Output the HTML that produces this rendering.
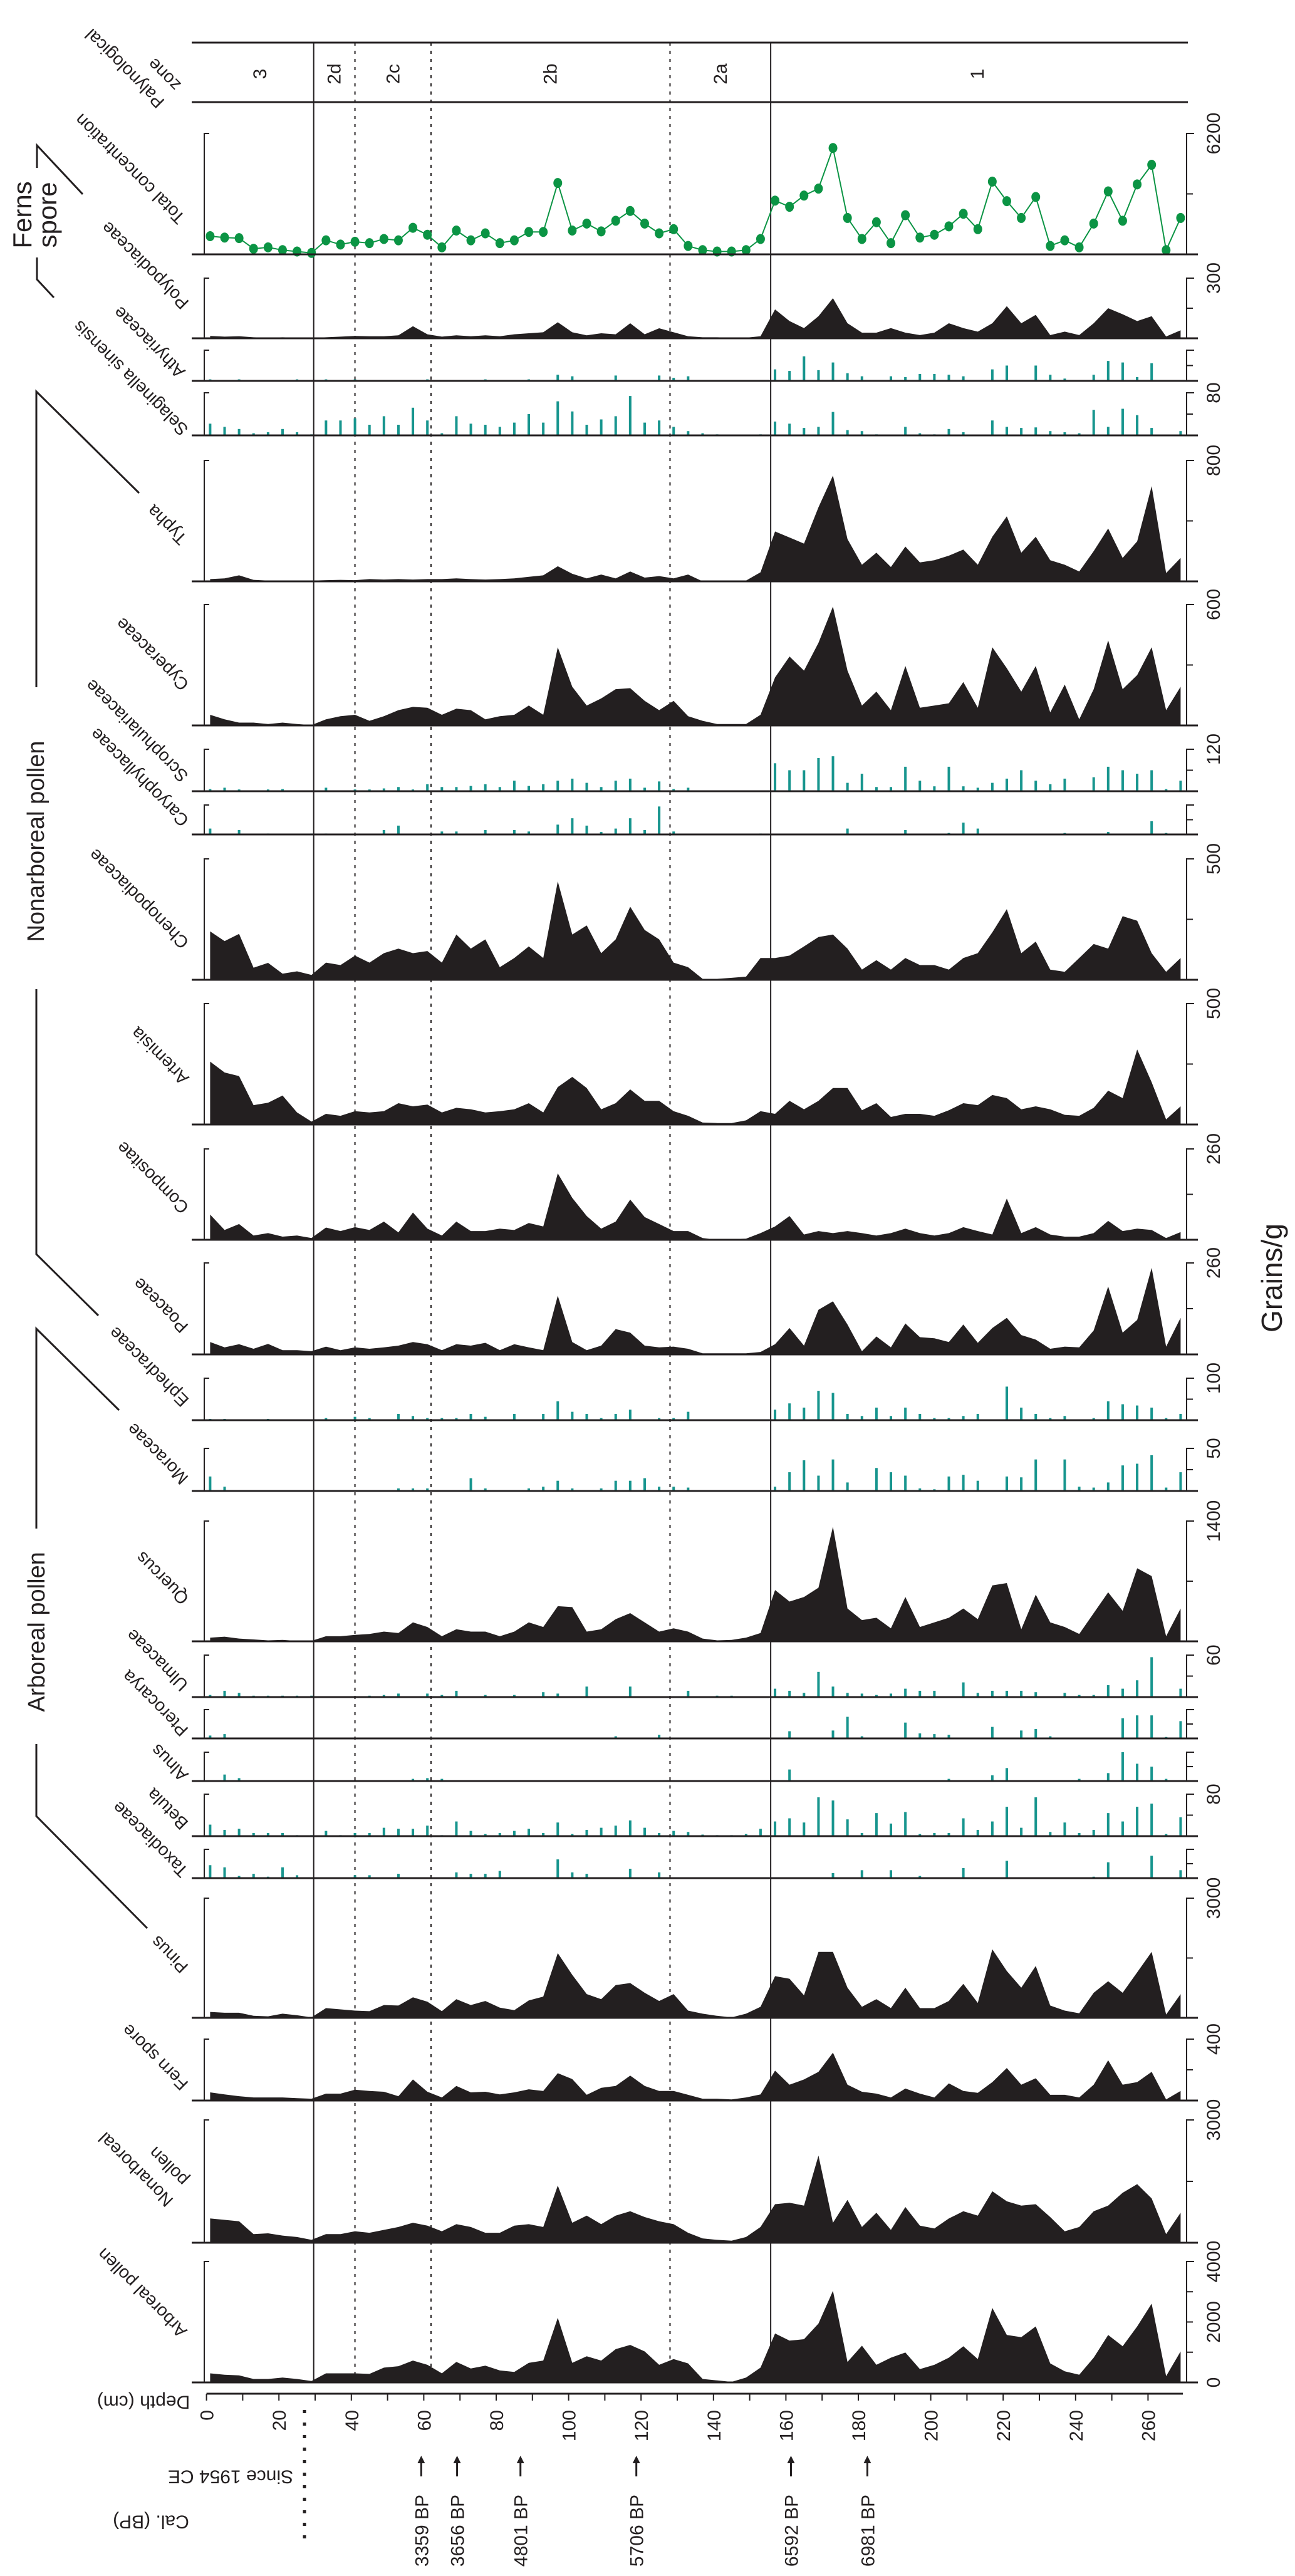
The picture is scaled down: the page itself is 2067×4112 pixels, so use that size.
<!DOCTYPE html>
<html>
<head>
<meta charset="utf-8">
<style>
html,body{margin:0;padding:0;background:#fff;}
svg{display:block;}
text{font-family:"Liberation Sans",Arial,sans-serif;fill:#231f20;}
</style>
</head>
<body>
<svg id="chart" xmlns="http://www.w3.org/2000/svg" width="2067" height="4112" viewBox="0 0 2067 4112"></svg>
<script>
const depths = [1,5,9,13,17,21,25,29,33,37,41,45,49,53,57,61,65,69,73,77,81,85,89,93,97,101,105,109,113,117,121,125,129,133,137,141,145,149,153,157,161,165,169,173,177,181,185,189,193,197,201,205,209,213,217,221,225,229,233,237,241,245,249,253,257,261,265,269];
const depthTicks = [0,20,40,60,80,100,120,140,160,180,200,220,240,260];
const zoneNames = ["3","2d","2c","2b","2a","1"];
const zoneBounds = [0,29.6,41,62,128,155.8,270];
const zoneSolid = [29.6,155.8];
const zoneDotted = [41,62,128];
const dateDepths = [59.3,69.2,86.7,118.7,161.4,182.5];
const dateLabels = ["3359 BP","3656 BP","4801 BP","5706 BP","6592 BP","6981 BP"];

const totalConc = [933,861,832,287,359,215,144,72,718,502,646,574,789,718,1363,1005,359,1220,718,1076,574,718,1148,1148,3659,1220,1578,1177,1722,2224,1578,1076,1291,431,215,144,144,215,789,2755,2440,3014,3372,5453,1866,789,1650,574,2009,861,1005,1435,2081,1291,3731,2727,1866,2942,431,718,359,1578,3229,1722,3587,4592,215,1866];
const polypod = [12,8,10,5,3,5,3,2,5,8,12,10,10,15,60,20,8,15,10,15,10,20,25,30,80,30,15,25,20,75,20,50,30,10,5,5,3,3,10,144,86,51,110,200,75,28,28,51,28,16,28,75,51,33,75,160,75,117,16,33,16,75,150,120,86,110,9,40];
const athyr = [2,0,2,0,0,0,2,0,2,0,2,0,0,0,0,2,0,0,0,2,0,0,2,0,8,6,0,0,7,0,0,7,4,6,0,0,0,0,0,15,13,32,14,24,10,6,0,6,5,9,9,8,6,0,15,20,0,20,8,3,0,8,26,24,5,23,0,0];
const selag = [22,16,12,4,6,12,6,2,28,28,32,20,36,20,52,28,4,36,22,20,16,24,40,24,64,45,20,30,36,74,24,28,16,8,4,2,0,0,2,26,22,14,16,44,10,8,2,0,16,4,2,12,6,0,28,16,14,15,8,6,4,48,16,50,38,14,0,8];
const typha = [15,20,40,10,5,5,5,5,8,10,8,15,12,15,12,15,15,20,15,12,15,20,30,40,100,50,20,45,20,65,25,35,20,45,0,0,0,5,60,330,290,250,490,700,280,110,190,95,230,125,140,170,210,110,295,430,190,295,140,110,65,200,350,155,265,630,55,155];
const cyper = [53,30,14,14,7,14,7,2,30,46,53,23,46,76,92,88,53,83,76,30,46,53,99,53,388,192,99,134,180,185,122,76,122,46,23,7,7,7,53,238,342,272,410,590,272,99,168,76,295,88,99,110,215,88,388,284,168,295,65,203,30,180,422,180,250,388,76,192];
const scroph = [6,10,5,2,5,6,2,0,10,2,5,5,8,12,5,20,12,12,15,20,12,30,15,20,30,36,24,12,30,36,10,28,6,10,2,2,2,2,2,80,60,60,95,100,24,50,12,12,70,30,14,70,14,10,24,36,60,30,20,36,2,40,70,60,50,60,6,30];
const caryo = [12,0,9,0,2,0,0,2,2,0,0,0,9,18,0,0,6,6,0,9,0,9,6,0,20,33,18,5,12,33,9,57,6,0,0,0,0,0,2,0,0,0,0,0,12,0,0,0,9,0,0,3,24,12,0,0,0,0,0,3,0,0,5,0,0,27,3,0];
const cheno = [200,160,190,50,70,25,35,20,71,61,100,71,110,129,110,119,71,187,129,167,52,90,138,90,407,187,225,110,167,302,206,167,71,52,4,4,8,13,90,90,100,138,177,187,129,42,81,42,90,61,61,42,90,110,196,292,110,158,42,33,90,148,129,263,244,110,33,90];
const artem = [260,215,200,80,90,120,50,12,44,36,55,50,55,88,75,82,50,69,63,50,55,63,88,50,155,197,151,63,88,145,98,98,55,36,8,6,6,17,55,44,98,63,98,151,151,59,88,31,44,44,36,59,88,80,122,109,63,75,63,40,36,69,140,109,310,175,21,75];
const compos = [72,28,45,12,19,9,12,5,35,25,36,28,52,21,78,32,12,52,25,25,32,28,48,38,190,120,68,32,52,115,65,45,25,25,5,0,2,3,19,38,68,15,25,19,25,19,12,19,32,19,12,19,36,25,15,118,19,36,15,9,9,19,54,25,32,28,5,22];
const poac = [35,20,29,16,30,12,12,9,22,12,20,16,20,25,35,29,12,29,25,33,12,29,20,12,167,35,12,25,72,62,25,20,22,16,3,3,3,3,7,29,75,25,127,151,85,9,51,20,88,49,46,35,85,33,75,104,55,42,16,22,20,68,193,62,98,246,22,104];
const ephed = [3,3,0,0,3,0,0,0,5,0,8,5,0,15,10,5,5,5,15,8,0,15,0,15,45,20,15,5,15,25,0,5,5,20,0,0,0,0,0,25,40,30,70,65,15,10,30,10,30,15,5,5,10,15,0,80,30,15,5,10,0,5,45,38,35,30,5,15];
const morac = [17,5,1,0,1,0,0,0,0,0,0,0,0,3,3,3,0,0,15,3,0,1,3,5,12,3,0,3,12,12,15,5,5,4,0,0,0,0,0,5,22,36,18,37,10,0,27,22,18,3,2,17,19,12,0,17,16,37,0,37,5,4,10,30,32,42,4,22];
const querc = [43,54,32,22,11,16,5,5,59,59,75,86,113,97,220,167,59,140,113,113,59,113,220,167,409,398,113,140,258,328,220,113,151,113,32,11,16,43,97,597,463,516,624,1334,382,247,274,151,516,167,220,274,382,258,651,678,140,543,220,167,86,328,570,355,850,759,59,382];
const ulmac = [3,9,6,2,2,2,2,2,1,1,0,2,3,5,0,5,3,9,0,3,0,3,0,7,5,0,15,0,0,15,0,0,0,9,0,2,2,1,0,12,9,6,36,15,6,5,3,5,12,9,9,0,21,6,9,9,9,7,0,6,3,3,17,12,24,57,0,12];
const ptero = [4,6,0,0,0,0,0,0,1,0,0,1,0,0,0,0,1,0,0,0,0,1,0,0,0,0,0,0,3,0,0,5,0,0,0,0,0,0,0,0,10,0,0,11,30,3,0,1,22,7,6,5,0,0,16,0,11,13,3,0,1,0,0,28,32,32,2,24];
const alnus = [0,9,4,0,1,0,0,0,0,0,0,0,0,0,3,4,3,0,0,0,0,0,0,0,0,0,0,0,0,0,0,0,0,0,0,0,0,0,0,0,16,0,0,0,0,0,0,0,0,0,0,3,0,0,8,18,0,0,1,0,3,0,11,40,24,20,3,0];
const betula = [22,12,14,6,6,6,2,2,10,2,6,6,16,14,14,20,2,28,10,4,6,10,14,6,26,4,12,16,20,30,16,6,10,8,3,2,2,4,14,28,34,26,74,68,32,6,44,24,46,4,6,6,34,12,28,56,16,74,8,26,6,12,44,28,56,62,4,36];
const taxod = [18,15,3,6,2,15,4,0,0,0,4,4,0,6,0,0,0,8,6,6,10,0,0,0,26,8,6,0,0,13,0,8,0,0,0,0,0,0,0,0,0,0,0,7,0,11,0,11,0,3,0,0,14,0,0,24,0,0,0,0,0,2,22,0,0,31,0,11];
const pinus = [147,128,128,51,38,103,64,13,244,212,180,167,320,308,513,404,167,468,320,423,256,192,436,532,1622,1077,596,468,820,872,628,423,596,180,103,51,13,103,276,1045,980,564,1654,1654,756,276,468,244,756,244,244,423,853,372,1718,1173,756,1301,308,180,115,628,917,628,1141,1654,83,596];
const fern = [53,40,28,20,20,20,15,12,45,45,70,62,57,28,137,57,20,95,53,57,40,53,73,62,178,140,37,83,95,162,95,62,62,37,12,12,7,20,40,195,103,137,187,312,103,57,45,20,78,45,20,112,62,50,120,212,103,145,37,37,20,103,262,103,120,187,7,62];
const nonarb = [593,558,523,209,230,174,140,70,209,209,279,244,314,384,488,418,279,453,384,244,244,418,453,384,1396,488,663,453,663,768,628,523,453,244,105,70,49,140,384,942,977,907,2129,488,1047,384,733,314,872,418,349,593,768,663,1256,1012,907,942,628,279,384,768,907,1221,1431,1082,209,733];
const arbor = [301,254,235,113,113,160,113,47,301,301,301,282,489,536,724,583,301,677,461,555,395,348,649,724,2136,649,866,724,1101,1242,1026,583,771,630,113,66,19,160,489,1618,1383,1430,1948,3030,677,1214,583,818,988,442,583,818,1195,771,2465,1571,1496,1853,630,367,254,818,1571,1195,1853,2606,207,1026];

const strips = [
 {key:"total-concentration", label:["Total concentration"], lx:[297], ly:[346], top:213, base:406, max:6200, type:"line", vals:totalConc, scale:"6200"},
 {key:"polypodiaceae", label:["Polypodiaceae"], lx:[303], ly:[482], top:444, base:540, max:300, type:"area", vals:polypod, scale:"300"},
 {key:"athyriaceae", label:["Athyriaceae"], lx:[297], ly:[592], top:559, base:608, max:40, type:"bar", vals:athyr, scale:""},
 {key:"selaginella-sinensis", label:["Selaginella sinensis"], lx:[302], ly:[684], top:627, base:695, max:80, type:"bar", vals:selag, scale:"80"},
 {key:"typha", label:["Typha"], lx:[300], ly:[858], top:735, base:928, max:800, type:"area", vals:typha, scale:"800"},
 {key:"cyperaceae", label:["Cyperaceae"], lx:[303], ly:[1091], top:965, base:1158, max:600, type:"area", vals:cyper, scale:"600"},
 {key:"scrophulariaceae", label:["Scrophulariaceae"], lx:[302], ly:[1237], top:1196, base:1263, max:120, type:"bar", vals:scroph, scale:"120"},
 {key:"caryophyllaceae", label:["Caryophyllaceae"], lx:[303], ly:[1308], top:1285, base:1332, max:60, type:"bar", vals:caryo, scale:""},
 {key:"chenopodiaceae", label:["Chenopodiaceae"], lx:[303], ly:[1503], top:1371, base:1564, max:500, type:"area", vals:cheno, scale:"500"},
 {key:"artemisia", label:["Artemisia"], lx:[303], ly:[1720], top:1602, base:1795, max:500, type:"area", vals:artem, scale:"500"},
 {key:"compositae", label:["Compositae"], lx:[303], ly:[1926], top:1834, base:1979, max:260, type:"area", vals:compos, scale:"260"},
 {key:"poaceae", label:["Poaceae"], lx:[302], ly:[2116], top:2016, base:2162, max:260, type:"area", vals:poac, scale:"260"},
 {key:"ephedraceae", label:["Ephedraceae"], lx:[303], ly:[2234], top:2200, base:2267, max:100, type:"bar", vals:ephed, scale:"100"},
 {key:"moraceae", label:["Moraceae"], lx:[302], ly:[2358], top:2312, base:2380, max:50, type:"bar", vals:morac, scale:"50"},
 {key:"quercus", label:["Quercus"], lx:[303], ly:[2550], top:2428, base:2620, max:1400, type:"area", vals:querc, scale:"1400"},
 {key:"ulmaceae", label:["Ulmaceae"], lx:[302], ly:[2688], top:2642, base:2709, max:60, type:"bar", vals:ulmac, scale:"60"},
 {key:"pterocarya", label:["Pterocarya"], lx:[302], ly:[2760], top:2729, base:2775, max:40, type:"bar", vals:ptero, scale:""},
 {key:"alnus", label:["Alnus"], lx:[302], ly:[2832], top:2797, base:2843, max:40, type:"bar", vals:alnus, scale:""},
 {key:"betula", label:["Betula"], lx:[302], ly:[2909], top:2864, base:2931, max:80, type:"bar", vals:betula, scale:"80"},
 {key:"taxodiaceae", label:["Taxodiaceae"], lx:[302], ly:[2985], top:2952, base:2998, max:40, type:"bar", vals:taxod, scale:""},
 {key:"pinus", label:["Pinus"], lx:[302], ly:[3138], top:3030, base:3221, max:3000, type:"area", vals:pinus, scale:"3000"},
 {key:"fern-spore", label:["Fern spore"], lx:[302], ly:[3325], top:3255, base:3353, max:400, type:"area", vals:fern, scale:"400"},
 {key:"nonarboreal-pollen", label:["Nonarboreal","pollen"], lx:[278,302], ly:[3511,3478], top:3384, base:3580, max:3000, type:"area", vals:nonarb, scale:"3000"},
 {key:"arboreal-pollen", label:["Arboreal pollen"], lx:[300], ly:[3720], top:3610, base:3803, max:4000, type:"area", vals:arbor, scale:"4000"}
];

const NS = "http://www.w3.org/2000/svg";
const svg = document.getElementById("chart");
function X(d){ return 329.6 + 5.78*d; }
function Y(s, v){ return s.base - v/s.max*(s.base - s.top); }
function mk(tag, attrs, parent){
  const e = document.createElementNS(NS, tag);
  for (const k in attrs) e.setAttribute(k, attrs[k]);
  (parent || svg).appendChild(e);
  return e;
}
function txt(str, attrs, parent){
  const e = mk("text", attrs, parent);
  e.textContent = str;
  return e;
}

// zone header
let el;
el = mk("line",{x1:306,y1:68,x2:1896,y2:68,stroke:"#231f20","stroke-width":3});


el = mk("line",{x1:306,y1:163,x2:1896,y2:163,stroke:"#231f20","stroke-width":3});


for (let i=0;i<zoneNames.length;i++){
  const cx = (X(zoneBounds[i])+X(zoneBounds[i+1]))/2 + 10;
  el = txt(zoneNames[i],{x:cx,y:118,"font-size":30,"text-anchor":"middle",transform:"rotate(-90 "+cx+" 118)"});
  
  
}
for (const d of zoneSolid){
  el = mk("line",{x1:X(d),y1:68,x2:X(d),y2:3803,stroke:"#231f20","stroke-width":2});
  
  
}
for (const d of zoneDotted){
  el = mk("line",{x1:X(d),y1:68,x2:X(d),y2:3803,stroke:"#231f20","stroke-width":2,"stroke-dasharray":"5 8"});
  
  
}

// strips
for (const s of strips){
  const g = mk("g",{});
  
  
  if (s.type === "area"){
    let dpath = "M"+X(depths[0])+" "+s.base;
    for (let i=0;i<depths.length;i++) dpath += " L"+X(depths[i]).toFixed(1)+" "+Y(s,s.vals[i]).toFixed(1);
    dpath += " L"+X(depths[depths.length-1])+" "+s.base+" Z";
    el = mk("path",{d:dpath,fill:"#231f20"},g);
    
    
  } else if (s.type === "bar"){
    for (let i=0;i<depths.length;i++){
      if (s.vals[i] <= 0) continue;
      const y = Y(s,s.vals[i]);
      el = mk("rect",{x:X(depths[i])-2,y:y,width:4,height:s.base-y,fill:"#17958e"},g);
      
      
    }
  } else {
    let pts = [];
    for (let i=0;i<depths.length;i++) pts.push(X(depths[i]).toFixed(1)+","+Y(s,s.vals[i]).toFixed(1));
    el = mk("polyline",{points:pts.join(" "),fill:"none",stroke:"#0b9444","stroke-width":2},g);
    
    
    for (let i=0;i<depths.length;i++){
      el = mk("ellipse",{cx:X(depths[i]),cy:Y(s,s.vals[i]),rx:7,ry:8,fill:"#0b9444"},g);
      
      
    }
  }
  // axes
  el = mk("line",{x1:306,y1:s.base,x2:1912,y2:s.base,stroke:"#231f20","stroke-width":3},g);
  
  
  el = mk("path",{d:"M334 "+s.top+" L326 "+s.top+" L326 "+s.base,fill:"none",stroke:"#231f20","stroke-width":2},g);
  
  
  const mid = (s.top+s.base)/2;
  let rd = "M1906 "+s.top+" L1894 "+s.top+" L1894 "+s.base+" M1894 "+mid+" L1904 "+mid;
  if (s.key === "arboreal-pollen"){
    const q1 = s.base-(s.base-s.top)/4, q3 = s.base-3*(s.base-s.top)/4;
    rd += " M1894 "+q1+" L1904 "+q1+" M1894 "+q3+" L1904 "+q3;
  }
  el = mk("path",{d:rd,fill:"none",stroke:"#231f20","stroke-width":2},g);
  
  
  if (s.scale){
    el = txt(s.scale,{x:1947,y:s.top,"font-size":30,"text-anchor":"middle",transform:"rotate(-90 1947 "+s.top+")"},g);
    
    
  }
  if (s.key === "arboreal-pollen"){
    el = txt("2000",{x:1947,y:mid,"font-size":30,"text-anchor":"middle",transform:"rotate(-90 1947 "+mid+")"},g);
    
    
    el = txt("0",{x:1947,y:s.base,"font-size":30,"text-anchor":"middle",transform:"rotate(-90 1947 "+s.base+")"},g);
    
    
  }
  for (let j=0;j<s.label.length;j++){
    el = txt(s.label[j],{x:s.lx[j],y:s.ly[j],"font-size":28,transform:"rotate(-135 "+s.lx[j]+" "+s.ly[j]+")"},g);
    
    
  }
}

// palynological zone label
el = txt("Palynological",{x:264,y:161,"font-size":28,transform:"rotate(-135 264 161)"});


el = txt("zone",{x:290,y:134,"font-size":28,transform:"rotate(-135 290 134)"});



// depth axis
el = mk("line",{x1:X(0),y1:3821,x2:1888,y2:3821,stroke:"#231f20","stroke-width":3});


for (let d=0; d<=260; d+=10){
  el = mk("line",{x1:X(d),y1:3821,x2:X(d),y2:3832,stroke:"#231f20","stroke-width":2});
  
  
}
for (const d of depthTicks){
  const x = X(d)+11;
  el = txt(String(d),{x:x,y:3847,"font-size":30,"text-anchor":"end",transform:"rotate(-90 "+x+" 3847)"});
  
  
}
el = txt("Depth (cm)",{x:229,y:3834,"font-size":30,"text-anchor":"middle","dominant-baseline":"central",transform:"rotate(180 229 3834)"});


el = txt("Since 1954 CE",{x:368,y:3953,"font-size":30,"text-anchor":"middle","dominant-baseline":"central",transform:"rotate(180 368 3953)"});


el = txt("Cal. (BP)",{x:241,y:4025,"font-size":30,"text-anchor":"middle","dominant-baseline":"central",transform:"rotate(180 241 4025)"});


el = mk("line",{x1:486,y1:3847,x2:486,y2:4066,stroke:"#231f20","stroke-width":5,"stroke-dasharray":"5 15"});



for (let i=0;i<dateDepths.length;i++){
  const x = X(dateDepths[i]);
  el = mk("line",{x1:x,y1:3953,x2:x,y2:3930,stroke:"#231f20","stroke-width":3});
  
  
  el = mk("path",{d:"M"+(x-6)+" 3932 L"+x+" 3920 L"+(x+6)+" 3932 Z",fill:"#231f20"});
  
  
  const tx = x+11;
  el = txt(dateLabels[i],{x:tx,y:3982,"font-size":30,"text-anchor":"end",transform:"rotate(-90 "+tx+" 3982)"});
  
  
}

// units
el = txt("Grains/g",{x:2046,y:2040,"font-size":46,"text-anchor":"middle",transform:"rotate(-90 2046 2040)"});



// group brackets
const brackets = [
  "M132 310 L59 232 L59 268", "M59 411 L59 446 L86 475",
  "M222 787 L58 625 L58 1097", "M58 1579 L58 2002 L157 2100",
  "M190 2251 L58 2121 L58 2440", "M58 2784 L58 2899 L235 3078"
];
for (const b of brackets){
  el = mk("path",{d:b,fill:"none",stroke:"#231f20","stroke-width":3});
  
  
}
el = txt("Ferns",{x:50,y:343,"font-size":42,"text-anchor":"middle",transform:"rotate(-90 50 343)"});


el = txt("spore",{x:90,y:343,"font-size":42,"text-anchor":"middle",transform:"rotate(-90 90 343)"});


el = txt("Nonarboreal pollen",{x:70,y:1343,"font-size":38,"text-anchor":"middle",transform:"rotate(-90 70 1343)"});


el = txt("Arboreal pollen",{x:71,y:2605,"font-size":38,"text-anchor":"middle",transform:"rotate(-90 71 2605)"});


</script>
</body>
</html>
